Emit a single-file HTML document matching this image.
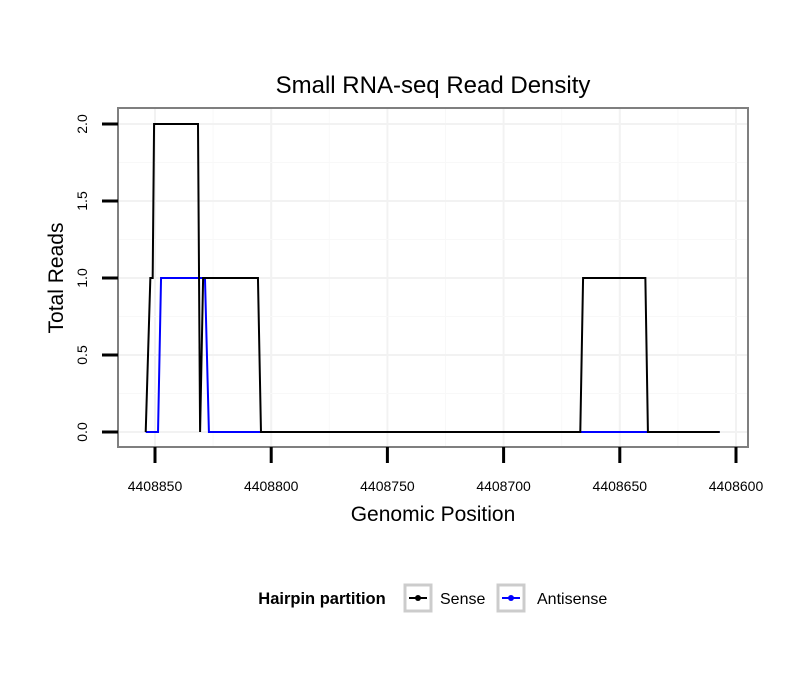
<!DOCTYPE html>
<html><head><meta charset="utf-8"><style>
body{margin:0;background:#fff;font-family:"Liberation Sans",sans-serif}
</style></head><body>
<svg id="c" width="810" height="690" xmlns="http://www.w3.org/2000/svg"></svg>
<script>
const xTicks=[4408850,4408800,4408750,4408700,4408650,4408600];
const yTicks=[0,0.5,1.0,1.5,2.0];
const yTickLabels=["0.0","0.5","1.0","1.5","2.0"];
const senseX=[4408854,4408852,4408851,4408850.4,4408831.5,4408830.6,4408829.3,4408805.7,4408804.4,4408667,4408665.8,4408639,4408637.9,4408607];
const senseY=[0,1,1,2,2,0,1,1,0,0,1,1,0,0];
const antiX=[4408854,4408848.7,4408847.4,4408828.5,4408826.8,4408607];
const antiY=[0,0,1,1,0,0];
const NS="http://www.w3.org/2000/svg";
const svg=document.getElementById('c');
const L=118,R=748,T=108,B=447;
const sx=v=>155+(4408850-v)*2.324;
const sy=v=>432-v*154;
function mk(t,a,p){const e=document.createElementNS(NS,t);for(const k in a)e.setAttribute(k,a[k]);(p||svg).appendChild(e);return e;}
let bg=mk('rect',{x:L,y:T,width:R-L,height:B-T,fill:'#fff'});


const grid=mk('g',{});


xTicks.forEach((v,i)=>{mk('line',{x1:sx(v),x2:sx(v),y1:T,y2:B,stroke:'#f2f2f2','stroke-width':2},grid);
 if(i<xTicks.length-1){const m=sx((v+xTicks[i+1])/2);mk('line',{x1:m,x2:m,y1:T,y2:B,stroke:'#f8f8f8','stroke-width':1},grid);}});
yTicks.forEach((v,i)=>{mk('line',{x1:L,x2:R,y1:sy(v),y2:sy(v),stroke:'#f2f2f2','stroke-width':2},grid);
 if(i<yTicks.length-1){const m=sy(v+0.25);mk('line',{x1:L,x2:R,y1:m,y2:m,stroke:'#f8f8f8','stroke-width':1},grid);}});
function series(xs,ys,col,name){const p=mk('polyline',{points:xs.map((x,i)=>sx(x)+','+sy(ys[i])).join(' '),fill:'none',stroke:col,'stroke-width':2});

}
series(antiX,antiY,'#0000ff','antisense-line');
series(senseX,senseY,'#000','sense-line');
let fr=mk('rect',{x:L,y:T,width:R-L,height:B-T,fill:'none',stroke:'#7f7f7f','stroke-width':2});


xTicks.forEach(v=>{mk('line',{x1:sx(v),x2:sx(v),y1:B,y2:B+16,stroke:'#000','stroke-width':3});
 const t=mk('text',{x:sx(v),y:B+44,'text-anchor':'middle','font-size':14,fill:'#000'});t.textContent=v;
 
 });
yTicks.forEach((v,i)=>{mk('line',{x1:L-16,x2:L,y1:sy(v),y2:sy(v),stroke:'#000','stroke-width':3});
 const t=mk('text',{x:0,y:0,'text-anchor':'middle','font-size':14,fill:'#000',transform:`translate(87,${sy(v)}) rotate(-90)`});t.textContent=yTickLabels[i];
 
 });
function txt(x,y,s,str,name,extra){const t=mk('text',Object.assign({x:x,y:y,'font-size':s,fill:'#000','text-anchor':'middle'},extra||{}));t.textContent=str;
 
 return t;}
txt(433,93,24,'Small RNA-seq Read Density','chart-title');
txt(433,521,21,'Genomic Position','x-axis-title');
txt(0,0,21,'Total Reads','y-axis-title',{transform:'translate(63,278) rotate(-90)'});
const lg=mk('g',{});


txt(322,604,16.5,'Hairpin partition','legend-title',{'font-weight':'bold'});
[[417,'#000','Sense',440],[510,'#0000ff','Antisense',537]].forEach(([x,c,l,tx])=>{
 mk('rect',{x:x-12,y:585,width:26,height:26,fill:'#fff',stroke:'#ccc','stroke-width':3},lg);
 mk('line',{x1:x-8,x2:x+10,y1:598,y2:598,stroke:c,'stroke-width':2},lg);
 mk('circle',{cx:x+1,cy:598,r:3,fill:c},lg);
 txt(tx,604,16,l,'legend-entry',{'text-anchor':'start'});});
</script>
</body></html>
